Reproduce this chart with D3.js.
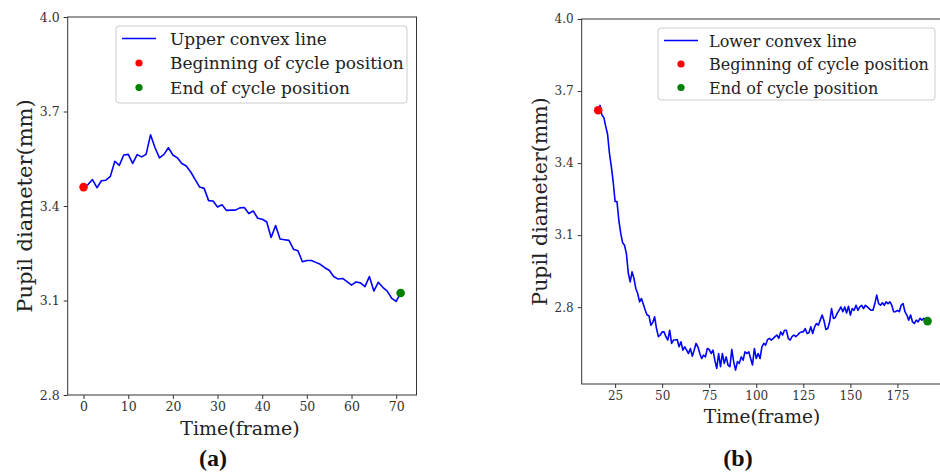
<!DOCTYPE html>
<html>
<head>
<meta charset="utf-8">
<script src="https://cdn.jsdelivr.net/npm/d3@7"></script>
<style>
  body { margin: 0; background: #fff; }
  svg { display: block; font-family: "DejaVu Serif", serif; }
  .tick text { fill: #333; }
  .tick line { stroke: #333; }
</style>
</head>
<body>
<svg id="vis" width="940" height="474"></svg>
<script>
// (a) upper convex line, frames 0..71
const upperStart = 0;
const upperValues = [
  3.460, 3.468, 3.484, 3.458, 3.480, 3.482, 3.494, 3.542, 3.529, 3.562,
  3.564, 3.535, 3.563, 3.556, 3.564, 3.626, 3.585, 3.553, 3.564, 3.585,
  3.562, 3.553, 3.535, 3.527, 3.508, 3.484, 3.460, 3.456, 3.417, 3.416,
  3.397, 3.404, 3.386, 3.387, 3.387, 3.394, 3.395, 3.376, 3.384, 3.361,
  3.358, 3.350, 3.300, 3.338, 3.295, 3.293, 3.291, 3.263, 3.258, 3.223,
  3.227, 3.227, 3.221, 3.215, 3.204, 3.196, 3.176, 3.168, 3.170, 3.160,
  3.149, 3.159, 3.156, 3.144, 3.176, 3.130, 3.158, 3.142, 3.130, 3.107,
  3.097, 3.124
];
const upperTicksY = [2.8, 3.1, 3.4, 3.7, 4.0];
const upperTicksX = [0, 10, 20, 30, 40, 50, 60, 70];

// (b) lower convex line, frames 16..191
const lowerStart = 16;
const lowerValues = [
  3.620, 3.640, 3.600, 3.590, 3.553, 3.520, 3.440, 3.385, 3.320, 3.240,
  3.240, 3.160, 3.107, 3.068, 3.058, 3.023, 2.943, 2.905, 2.947, 2.920,
  2.878, 2.857, 2.822, 2.836, 2.812, 2.787, 2.767, 2.764, 2.725, 2.736,
  2.760, 2.711, 2.677, 2.684, 2.697, 2.697, 2.677, 2.663, 2.704, 2.649,
  2.663, 2.663, 2.665, 2.635, 2.656, 2.621, 2.635, 2.621, 2.607, 2.628,
  2.596, 2.621, 2.649, 2.635, 2.607, 2.586, 2.600, 2.593, 2.628, 2.624,
  2.607, 2.621, 2.579, 2.545, 2.607, 2.552, 2.607, 2.566, 2.593, 2.559,
  2.552, 2.624, 2.573, 2.538, 2.573, 2.566, 2.593, 2.579, 2.614, 2.607,
  2.614, 2.586, 2.559, 2.628, 2.586, 2.607, 2.586, 2.635, 2.649, 2.642,
  2.665, 2.670, 2.663, 2.670, 2.677, 2.684, 2.670, 2.697, 2.684, 2.704,
  2.704, 2.670, 2.663, 2.677, 2.684, 2.677, 2.684, 2.693, 2.697, 2.697,
  2.711, 2.690, 2.693, 2.718, 2.690, 2.718, 2.732, 2.725, 2.746, 2.767,
  2.743, 2.707, 2.711, 2.739, 2.794, 2.753, 2.757, 2.774, 2.787, 2.801,
  2.781, 2.801, 2.776, 2.804, 2.767, 2.794, 2.787, 2.808, 2.787, 2.801,
  2.808, 2.794, 2.808, 2.801, 2.794, 2.787, 2.787, 2.815, 2.850, 2.815,
  2.808, 2.818, 2.808, 2.822, 2.815, 2.822, 2.808, 2.781, 2.781, 2.787,
  2.781, 2.808, 2.815, 2.781, 2.767, 2.746, 2.767, 2.739, 2.732, 2.746,
  2.739, 2.753, 2.746, 2.753, 2.743, 2.742
];
const lowerTicksY = [2.8, 3.1, 3.4, 3.7, 4.0];
const lowerTicksX = [25, 50, 75, 100, 125, 150, 175];

const legendLabels = ["Beginning of cycle position", "End of cycle position"];

const svg = d3.select('#vis');
const serif = '"DejaVu Serif", serif';

function panel(opts) {
  const pts = opts.values.map((v, i) => [opts.start + i, v]);
  const n = pts.length - 1;
  const pad = (pts[n][0] - pts[0][0]) * 0.05;
  const x = d3.scaleLinear().domain([pts[0][0] - pad, pts[n][0] + pad]).range([opts.left, opts.right]);
  const y = d3.scaleLinear().domain(opts.yDomain).range([opts.bottom, opts.top]);
  const g = svg.append('g');

  g.append('g')
    .attr('transform', `translate(0,${opts.bottom})`)
    .call(d3.axisBottom(x).tickValues(opts.ticksX).tickFormat(d3.format('d')).tickSize(4).tickPadding(3))
    .attr('font-family', serif).attr('font-size', opts.tickSize)
    .call(a => a.select('.domain').remove());
  g.append('g')
    .attr('transform', `translate(${opts.left},0)`)
    .call(d3.axisLeft(y).tickValues(opts.ticksY).tickFormat(d3.format('.1f')).tickSize(4).tickPadding(4))
    .attr('font-family', serif).attr('font-size', opts.tickSize)
    .call(a => a.select('.domain').remove());

  g.append('rect')
    .attr('x', opts.left).attr('y', opts.top)
    .attr('width', opts.right - opts.left).attr('height', opts.bottom - opts.top)
    .attr('fill', 'none').attr('stroke', '#333').attr('stroke-width', 1);

  g.append('path')
    .datum(pts)
    .attr('fill', 'none')
    .attr('stroke', '#0000ff')
    .attr('stroke-width', 1.6)
    .attr('stroke-linejoin', 'round')
    .attr('d', d3.line().x(d => x(d[0])).y(d => y(d[1])));

  g.selectAll('circle.end')
    .data([[pts[0], '#ff0000'], [pts[n], '#008000']])
    .enter()
    .append('circle')
      .classed('end', true)
      .attr('cx', d => x(d[0][0]))
      .attr('cy', d => y(d[0][1]))
      .attr('r', 4.3)
      .attr('fill', d => d[1]);

  // legend
  const lg = g.append('g').attr('transform', `translate(${opts.legend[0]},${opts.legend[1]})`);
  lg.append('rect')
    .attr('width', opts.legend[2]).attr('height', opts.legend[3]).attr('rx', 3)
    .attr('fill', '#fff').attr('stroke', '#ccc');
  lg.append('line')
    .attr('x1', 6).attr('x2', 40).attr('y1', 12.5).attr('y2', 12.5)
    .attr('stroke', '#0000ff').attr('stroke-width', 1.6);
  lg.selectAll('circle')
    .data(['#ff0000', '#008000'])
    .enter()
    .append('circle')
      .attr('cx', 23)
      .attr('cy', (d, i) => 12.5 + (i + 1) * opts.legendStep)
      .attr('r', 3.6)
      .attr('fill', d => d);
  lg.selectAll('text')
    .data([opts.name].concat(legendLabels))
    .enter()
    .append('text')
      .attr('x', opts.legendText)
      .attr('y', (d, i) => 18.5 + i * opts.legendStep)
      .attr('font-size', opts.legendFont)
      .attr('fill', '#222')
      .text(d => d);

  g.append('text')
    .attr('transform', `translate(${opts.yLabelX},${(opts.top + opts.bottom) / 2}) rotate(-90)`)
    .attr('text-anchor', 'middle')
    .attr('font-size', opts.yLabelFont)
    .attr('fill', '#222')
    .text('Pupil diameter(mm)');
  g.append('text')
    .attr('x', opts.xLabelX)
    .attr('y', opts.xLabelY)
    .attr('text-anchor', 'middle')
    .attr('font-size', opts.xLabelFont)
    .attr('fill', '#222')
    .text('Time(frame)');
  g.append('text')
    .attr('x', opts.capX)
    .attr('y', 466)
    .attr('text-anchor', 'middle')
    .attr('font-size', 24)
    .attr('font-weight', 'bold')
    .attr('font-family', '"Liberation Serif", serif')
    .attr('fill', '#111')
    .text('(' + opts.cap + ')');
}

panel({
  name: 'Upper convex line', values: upperValues, start: upperStart,
  ticksX: upperTicksX, ticksY: upperTicksY, yDomain: [2.8, 4.0],
  left: 67.7, right: 416.5, top: 17, bottom: 395, tickSize: 12.5,
  legend: [116, 26, 291, 77], legendStep: 24.5, legendText: 54, legendFont: 17,
  yLabelX: 32, yLabelFont: 21, xLabelX: 240, xLabelY: 435, xLabelFont: 19,
  capX: 213, cap: 'a'
});

panel({
  name: 'Lower convex line', values: lowerValues, start: lowerStart,
  ticksX: lowerTicksX, ticksY: lowerTicksY, yDomain: [2.48, 4.0],
  left: 581.7, right: 944, top: 19, bottom: 384, tickSize: 12,
  legend: [658, 28, 277, 72], legendStep: 23.5, legendText: 51, legendFont: 16,
  yLabelX: 547, yLabelFont: 20.5, xLabelX: 762, xLabelY: 423, xLabelFont: 18.5,
  capX: 738, cap: 'b'
});
</script>
</body>
</html>
